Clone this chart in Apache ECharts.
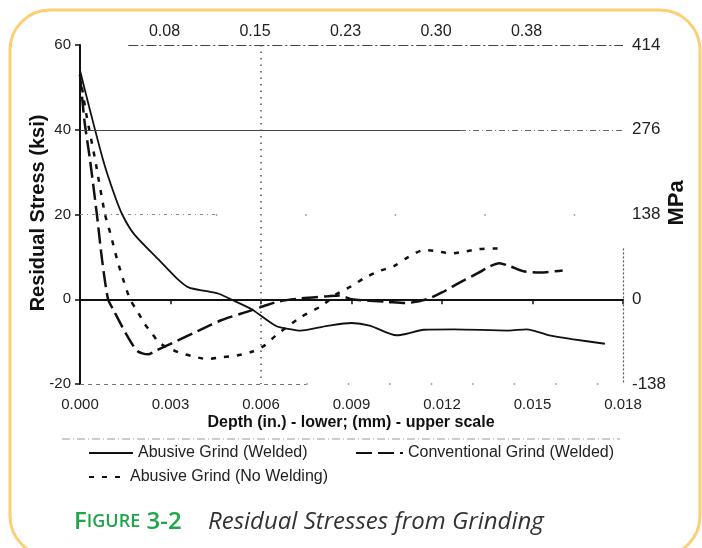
<!DOCTYPE html>
<html><head><meta charset="utf-8">
<script src="https://cdn.jsdelivr.net/npm/echarts@6/dist/echarts.min.js"></script>
<style>html,body{margin:0;padding:0;background:#fff}#c{width:702px;height:548px}</style>
</head><body><div id="c"></div>
<script>
// Upper-scale (mm) tick labels and right-axis (MPa) tick labels
const mmLabels = ['0.08', '0.15', '0.23', '0.30', '0.38'];
const mpaLabels = ['-138', '0', '138', '276', '414'];

// Abusive Grind (Welded) — depth (in.), stress (ksi)
const abusiveWeldedDepth  = [0.0000, 0.0003, 0.00076, 0.0011, 0.0014, 0.0018, 0.0026, 0.0032, 0.0036, 0.0042, 0.0046, 0.0050, 0.0057, 0.0065, 0.0070, 0.0073, 0.0082, 0.0090, 0.0096, 0.0105, 0.0108, 0.0114, 0.0124, 0.0142, 0.0148, 0.0156, 0.0163, 0.0174];
const abusiveWeldedStress = [54, 45.5, 33, 25.5, 20, 15.3, 9.4, 5.0, 2.8, 1.9, 1.3, 0, -2.4, -6.3, -7.1, -7.4, -6.3, -5.6, -6.2, -8.5, -8.2, -7.2, -7.1, -7.4, -7.1, -8.6, -9.4, -10.5];

// Conventional Grind (Welded)
const conventionalDepth  = [0.0000, 0.00015, 0.00033, 0.00056, 0.00073, 0.00093, 0.0011, 0.0015, 0.0019, 0.00225, 0.00255, 0.0028, 0.0039, 0.0047, 0.0056, 0.0061, 0.0066, 0.0073, 0.0082, 0.0086, 0.0090, 0.0102, 0.0108, 0.0115, 0.0120, 0.0126, 0.0132, 0.0136, 0.0139, 0.01425, 0.0147, 0.01525, 0.0160];
const conventionalStress = [53, 42, 33, 20, 9.4, 0, -2.4, -7.8, -12.2, -13, -12, -11.2, -7.5, -4.9, -2.8, -1.6, -0.5, 0.2, 0.7, 0.9, 0, -0.6, -0.9, 0, 1.6, 4.0, 6.2, 7.8, 8.5, 7.8, 6.6, 6.3, 6.8];

// Abusive Grind (No Welding)
const noWeldDepth  = [0.0000, 0.0002, 0.0005, 0.00083, 0.0010, 0.00123, 0.00143, 0.00166, 0.0019, 0.00215, 0.0024, 0.00265, 0.00325, 0.0037, 0.0042, 0.0047, 0.0052, 0.0057, 0.0061, 0.0065, 0.0073, 0.0080, 0.0085, 0.0090, 0.0094, 0.0099, 0.0104, 0.0108, 0.0114, 0.0118, 0.0123, 0.0127, 0.0132, 0.0137, 0.0141];
const noWeldStress = [53, 44, 33, 20, 15.7, 9.4, 4.7, 0, -2.8, -5.9, -8.2, -10.4, -12.5, -13.4, -14.1, -13.7, -13.3, -12.4, -11, -8.5, -4.3, -1.6, 1.2, 3.1, 4.9, 6.6, 7.8, 9.6, 11.6, 11.4, 10.8, 11.2, 11.8, 12, 12];

const pairs = (xs, ys) => xs.map((x, i) => [x, ys[i]]);
const FONT = '"Liberation Sans", Arial, sans-serif';

const chart = echarts.init(document.getElementById('c'), null, {renderer: 'canvas'});

const gridMarks = {
  silent: true, symbol: ['none', 'none'], label: {show: false},
  data: [
    [{coord: [0.0016, 60], lineStyle: {color: '#444', width: 1, type: [10, 3, 2, 3]}}, {coord: [0.018, 60]}],
    [{coord: [0, 40], lineStyle: {color: '#444', width: 1, type: 'solid'}}, {coord: [0.0126, 40]}],
    [{coord: [0.0126, 40], lineStyle: {color: '#666', width: 1, type: [6, 3, 1, 3]}}, {coord: [0.018, 40]}],
    [{coord: [0, 20], lineStyle: {color: '#888', width: 1, type: [3, 4, 1, 4]}}, {coord: [0.0045, 20]}],
    [{coord: [0.0045, 20], lineStyle: {color: '#888', width: 1.5, type: [1.5, 88]}}, {coord: [0.018, 20]}],
    [{coord: [0, -20], lineStyle: {color: '#777', width: 1, type: [4, 4]}}, {coord: [0.0075, -20]}],
    [{coord: [0.0075, -20], lineStyle: {color: '#888', width: 1.5, type: [1.5, 40]}}, {coord: [0.018, -20]}],
    [{coord: [0.006, 60], lineStyle: {color: '#555', width: 1.5, type: [1.5, 5]}}, {coord: [0.006, -20]}],
    [{coord: [0.018, 12], lineStyle: {color: '#555', width: 1.2, type: [2, 2]}}, {coord: [0.018, -20]}]
  ]
};

const legendText = {fontSize: 16, color: '#222', fontFamily: FONT};
const legendCommon = {itemHeight: 14, textStyle: legendText, selectedMode: false, padding: 0,
  itemStyle: {opacity: 0, borderWidth: 0}, lineStyle: {opacity: 1}};

chart.setOption({
  animation: false,
  backgroundColor: '#fff',
  color: ['#111', '#111', '#111'],
  grid: {left: 80, top: 45, width: 543, height: 339, containLabel: false},
  xAxis: [
    {type: 'value', position: 'bottom', min: 0, max: 0.018, interval: 0.003,
     axisLine: {show: false, onZero: false}, axisTick: {show: false}, splitLine: {show: false},
     axisLabel: {margin: 13, fontSize: 15, color: '#222', fontFamily: FONT, formatter: v => v.toFixed(3)}},
    {type: 'value', position: 'top', min: 0, max: 0.018, interval: 0.003,
     axisLine: {show: false, onZero: false}, axisTick: {show: false}, splitLine: {show: false},
     axisLabel: {margin: 5, fontSize: 16, color: '#222', fontFamily: FONT, padding: [0, 12, 0, 0],
       formatter: v => { const i = Math.round(v / 0.003); return (i >= 1 && i <= mmLabels.length) ? mmLabels[i - 1] : ''; }}},
    {type: 'value', position: 'top', min: 0, max: 0.018, interval: 0.003,
     axisLine: {show: true, onZero: true, lineStyle: {color: '#111', width: 2}},
     axisTick: {show: true, inside: true, length: 5, lineStyle: {color: '#111', width: 1.5}},
     axisLabel: {show: false}, splitLine: {show: false}}
  ],
  yAxis: [
    {type: 'value', position: 'left', min: -20, max: 60, interval: 20,
     axisLine: {show: true, onZero: false, lineStyle: {color: '#111', width: 2}},
     axisTick: {show: true, length: 5, lineStyle: {color: '#111', width: 1.5}},
     splitLine: {show: false},
     axisLabel: {margin: 9, fontSize: 15, color: '#222', fontFamily: FONT}},
    {type: 'value', position: 'right', min: -20, max: 60, interval: 20,
     axisLine: {show: false, onZero: false}, axisTick: {show: false}, splitLine: {show: false},
     axisLabel: {margin: 9, fontSize: 17, color: '#222', fontFamily: FONT,
       formatter: v => mpaLabels[Math.round((v + 20) / 20)]}}
  ],
  legend: [
    Object.assign({data: ['Abusive Grind (Welded)'], left: 88, top: 445, itemWidth: 44}, legendCommon),
    Object.assign({data: ['Conventional Grind (Welded)'], left: 355, top: 445, itemWidth: 47}, legendCommon),
    Object.assign({data: ['Abusive Grind (No Welding)'], left: 88, top: 469, itemWidth: 36}, legendCommon)
  ],
  series: [
    {name: 'Abusive Grind (Welded)', type: 'line', data: pairs(abusiveWeldedDepth, abusiveWeldedStress),
     symbol: 'none', smooth: 0.25, lineStyle: {color: '#111', width: 1.8, type: 'solid'},
     markLine: gridMarks, z: 3},
    {name: 'Conventional Grind (Welded)', type: 'line', data: pairs(conventionalDepth, conventionalStress),
     symbol: 'none', smooth: 0.25, lineStyle: {color: '#111', width: 2.5, type: [16, 6]}, z: 3},
    {name: 'Abusive Grind (No Welding)', type: 'line', data: pairs(noWeldDepth, noWeldStress),
     symbol: 'none', smooth: 0.25, lineStyle: {color: '#111', width: 2.5, type: [5, 8]}, z: 3}
  ],
  graphic: [
    {type: 'rect', shape: {x: 10, y: 10, width: 690, height: 546, r: 40}, style: {fill: 'none', stroke: '#fccf76', lineWidth: 3}, z: -10, silent: true},
    {type: 'line', shape: {x1: 62, y1: 439, x2: 620, y2: 439}, style: {stroke: '#999', lineWidth: 1, lineDash: [8, 3, 1, 3]}, silent: true},
    {type: 'text', x: 38, y: 213, rotation: Math.PI / 2, silent: true,
     style: {text: 'Residual Stress (ksi)', font: 'bold 20px ' + FONT, fill: '#111', align: 'center', verticalAlign: 'middle'}},
    {type: 'text', x: 677, y: 203, rotation: Math.PI / 2, silent: true,
     style: {text: 'MPa', font: 'bold 22px ' + FONT, fill: '#111', align: 'center', verticalAlign: 'middle'}},
    {type: 'text', x: 351, y: 423, silent: true,
     style: {text: 'Depth (in.) - lower; (mm) - upper scale', font: 'bold 16px ' + FONT, fill: '#111', align: 'center', verticalAlign: 'middle'}},
    {type: 'text', x: 74, y: 522, silent: true,
     style: {text: '{a|F}{b|IGURE}{a| 3-2}', verticalAlign: 'middle', align: 'left',
       rich: {a: {fontFamily: '"Open Sans", sans-serif', fontSize: 24, fontWeight: 600, fill: '#1fa64a', color: '#1fa64a'},
              b: {fontFamily: '"Open Sans", sans-serif', fontSize: 18, fontWeight: 600, fill: '#1fa64a', color: '#1fa64a'}}}},
    {type: 'text', x: 208, y: 522, silent: true,
     style: {text: 'Residual Stresses from Grinding', font: 'italic 24px "Open Sans", sans-serif', fill: '#333', align: 'left', verticalAlign: 'middle'}}
  ]
});
</script>
</body></html>
